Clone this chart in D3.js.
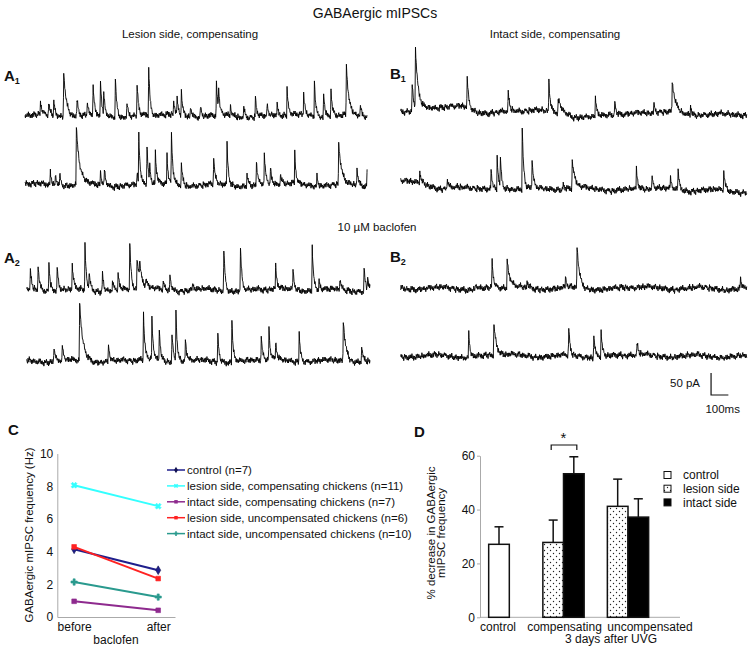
<!DOCTYPE html>
<html><head><meta charset="utf-8">
<script src="https://cdn.jsdelivr.net/npm/d3@7"></script>
<style>
body{margin:0;background:#fff}
svg{display:block}
text{font-family:"Liberation Sans",Arial,Helvetica,sans-serif;fill:#111}
</style>
</head><body>
<svg id="fig" width="750" height="649"></svg>
<script>
// ---------------- DATA ----------------
// mIPSC events: [time ms, amplitude pA, (optional decay ms)]
const eventsA1_1 = [[88,30],[136,30],[166,34],[224,104,16],[302,38],[361,30],[396,61],[439,76],[458,49],[526,95],[594,30],[653,74],[721,110],[867,34],[887,34],[912,57],[965,27],[1023,23],[1117,72],[1130,49],[1199,23],[1277,23],[1345,45],[1413,23],[1472,23],[1530,63],[1627,49],[1690,83],[1744,58],[1787,66],[1877,116,14],[1959,23]];
const eventsA1_2 = [[146,30],[175,27],[201,27],[298,127,20],[439,30],[462,40],[653,23],[663,108],[711,93],[727,30],[760,73],[828,61],[854,116],[912,52],[1101,63],[1179,93],[1296,30],[1351,57],[1397,72],[1433,38],[1491,27],[1575,70],[1705,23],[1832,96,16],[1939,38],[1998,34]];
const eventsB1_1 = [[64,64],[83,129,14],[382,70],[619,43],[854,70],[908,30,35],[1123,48],[1235,34],[1461,20],[1567,70,20],[1673,23]];
const eventsB1_2 = [[108,27],[266,19],[520,45],[555,73],[574,64],[700,140],[757,61],[937,15],[989,64,16],[1360,42],[1451,23],[1557,27],[1601,53],[1865,49]];
const eventsA2_1 = [[19,42],[64,57],[127,68],[175,53],[263,55],[337,102],[361,38],[439,45],[497,23],[530,38],[598,108],[640,70,22],[655,35],[692,19],[793,19],[832,38],[965,15],[1146,95],[1243,98],[1448,51],[1549,45],[1661,104],[1701,19],[1822,23],[1963,55],[1984,30]];
const eventsA2_2 = [[156,34],[205,34],[306,127,20],[474,40],[678,106],[727,95],[770,74],[844,66],[867,114],[922,53],[1111,64],[1193,95],[1364,58],[1409,70],[1448,40],[1585,72],[1842,95,16],[1949,40]];
const eventsB2_1 = [[430,15],[526,61],[613,61,16],[728,15],[950,23],[1017,96,14],[1962,23]];
const eventsB2_2 = [[391,52],[536,70,16],[969,59],[1114,53],[1156,59],[1364,27]];
// baseline drift: [time ms, offset pA]
const driftB1_1 = [[0,-4],[60,-4],[100,12],[370,10],[450,0],[900,0],[1000,-15],[1110,-15],[1200,-4],[1600,-4],[1800,-8],[2000,-4]];
const driftB1_2 = [[0,10],[130,10],[230,-6],[450,0],[600,-8],[900,-4],[1400,-6],[2000,-10]];
// fixed hand-typed texture for recording noise (pA)
const noiseFast = [2,-3,4,-1,-4,3,1,-5,5,-2,0,4,-3,2,-4,5,-1,-3,3,-5,1,4,-2];
const noiseMid  = [-1,2,3,0,-2,-3,1,3,-1,-3,2,0,-2];
const noiseSlow = [0,3,5,2,-2,-4,-1,2,4,1,-3,-5,-2,1,3];
const traceDuration = 2000; // ms
const scaleBarTime = 100;   // ms
const scaleBarAmp = 50;     // pA

// Panel C
const cCategories = ["before","after"];
const cSeriesNames = ["control (n=7)","lesion side, compensating chickens (n=11)","intact side, compensating chickens (n=7)","lesion side, uncompensated chickens (n=6)","intact side, uncompensated chickens (n=10)"];
const cControl      = [4.14, 2.86];
const cLesionComp   = [8.06, 6.78];
const cIntactComp   = [0.96, 0.41];
const cLesionUncomp = [4.29, 2.35];
const cIntactUncomp = [2.14, 1.22];
const cTicks = [0,2,4,6,8,10];

// Panel D
const dGroups = ["control","compensating","uncompensated"];
const dSides = ["control","lesion side","intact side"];
const dBarGroup = ["control","compensating","compensating","uncompensated","uncompensated"];
const dBarSide  = ["control","lesion side","intact side","lesion side","intact side"];
const dBarMean  = [27.1, 27.8, 53.3, 41.2, 37.2];
const dBarSEM   = [6.5, 8.3, 6.3, 10.1, 6.8];
const dTicks = [0,20,40,60];

// ---------------- DRAW ----------------
const svg = d3.select("#fig");
svg.append("rect").attr("width",750).attr("height",649).attr("fill","#fff");
const F = '"Liberation Sans",Arial,sans-serif';

function txt(x,y,s,size,opts={}){
  const t = svg.append("text").attr("x",x).attr("y",y).attr("font-size",size).text(s);
  if(opts.anchor) t.attr("text-anchor",opts.anchor);
  if(opts.bold) t.attr("font-weight","bold");
  return t;
}
txt(375,18,"GABAergic mIPSCs",14,{anchor:"middle"});
txt(190,38,"Lesion side, compensating",11.5,{anchor:"middle"});
txt(555,38,"Intact side, compensating",11.5,{anchor:"middle"});
txt(377,231,"10 \u00B5M baclofen",11.5,{anchor:"middle"});

function panelLabel(x,y,L,sub){
  const t = svg.append("text").attr("x",x).attr("y",y).attr("font-size",15).attr("font-weight","bold");
  t.append("tspan").text(L);
  if(sub) t.append("tspan").attr("font-size",9).attr("dy",3).text(sub);
}
panelLabel(4,81,"A","1");
panelLabel(390,79,"B","1");
panelLabel(4,263,"A","2");
panelLabel(390,262,"B","2");
panelLabel(8,435,"C");
panelLabel(414,437,"D");

// traces
const rise = 2.5, defTau = 8, dt = 2.5;
function buildTrace(events, drift, k){
  const driftScale = drift ? d3.scaleLinear().domain(drift.map(d=>d[0])).range(drift.map(d=>d[1])).clamp(true) : null;
  const times = d3.range(0, traceDuration+0.001, dt).concat(events.map(e=>e[0]+rise)).sort((a,b)=>a-b);
  return times.map(t=>{
    let v = 0;
    for(const e of events){
      const d = t - e[0];
      if(d < 0) continue;
      const tau = e[2] || defTau;
      v += d < rise ? e[1]*d/rise : e[1]*Math.exp(-(d-rise)/tau);
    }
    const i = Math.round(t/dt);
    const f = noiseFast[(i + k*5) % noiseFast.length];
    const m = noiseMid[Math.floor((i + k*3)/3) % noiseMid.length];
    const si = Math.floor((i + k*11)/20), fr = ((i + k*11)%20)/20;
    const s0 = noiseSlow[si % noiseSlow.length], s1 = noiseSlow[(si+1) % noiseSlow.length];
    v += 1.1*f + 1.0*m + 0.9*(s0 + (s1-s0)*fr);
    if(driftScale) v += driftScale(t);
    return {t, v};
  });
}
const traces = [
  {ev:eventsA1_1, x0:25,   x1:367,   base:116},
  {ev:eventsA1_2, x0:25,   x1:367,   base:185},
  {ev:eventsB1_1, x0:400.7,x1:746.7, base:111.7, drift:driftB1_1},
  {ev:eventsB1_2, x0:400.7,x1:746.7, base:186.7, drift:driftB1_2},
  {ev:eventsA2_1, x0:26.7, x1:370,   base:290},
  {ev:eventsA2_2, x0:26.7, x1:370,   base:361},
  {ev:eventsB2_1, x0:400.7,x1:746.7, base:288.3},
  {ev:eventsB2_2, x0:400.7,x1:746.7, base:356}
];
traces.forEach((tr,k)=>{
  const tx = d3.scaleLinear().domain([0,traceDuration]).range([tr.x0,tr.x1]);
  const ay = d3.scaleLinear().domain([0,scaleBarAmp]).range([tr.base,tr.base-22]);
  const data = buildTrace(tr.ev, tr.drift, k);
  svg.append("path").datum(data)
    .attr("d", d3.line().x(d=>tx(d.t)).y(d=>ay(d.v)))
    .attr("fill","none").attr("stroke","#000").attr("stroke-width",0.9).attr("stroke-linejoin","round");
});
// scale bar
{
  const tx = d3.scaleLinear().domain([0,traceDuration]).range([400.7,746.7]);
  const ay = d3.scaleLinear().domain([0,scaleBarAmp]).range([395,373]);
  const t0 = 1794;
  svg.append("path").attr("d",`M${tx(t0)},${ay(scaleBarAmp)}V${ay(0)}H${tx(t0+scaleBarTime)}`)
    .attr("fill","none").attr("stroke","#111").attr("stroke-width",1.2);
  txt(tx(t0)-11,387,scaleBarAmp+" pA",11.5,{anchor:"end"});
  txt(tx(t0+scaleBarTime/2)+3,413,scaleBarTime+"ms",11.5,{anchor:"middle"});
}

// ---------------- Panel C ----------------
{
  const y = d3.scaleLinear().domain([0,10]).range([617,453.5]);
  const x = d3.scalePoint().domain(cCategories).range([57.3,175]).padding(0.2);
  const ya = svg.append("g").attr("transform","translate(57.3,0)")
    .call(d3.axisLeft(y).tickValues(cTicks).tickSize(0).tickPadding(4).tickSizeOuter(0));
  ya.select(".domain").attr("stroke","#aaa");
  ya.selectAll("text").attr("font-size",12).attr("font-family",F).attr("fill","#111");
  const xa = svg.append("g").attr("transform","translate(0,617)")
    .call(d3.axisBottom(x).tickSize(0).tickPadding(5).tickSizeOuter(0));
  xa.select(".domain").attr("stroke","#aaa");
  xa.selectAll("text").attr("font-size",12).attr("font-family",F).attr("fill","#111");
  txt(116,644,"baclofen",12,{anchor:"middle"});
  svg.append("text").attr("transform","translate(33,535) rotate(-90)").attr("text-anchor","middle")
    .attr("font-size",11.5).text("GABAergic mIPSC frequency (Hz)");

  const series = [cControl,cLesionComp,cIntactComp,cLesionUncomp,cIntactUncomp];
  const colors = ["#1f1f8c","#33ffff","#8e2a8e","#ff2222","#2a9a8e"];
  const symbols = [d3.symbolDiamond,d3.symbolCross,d3.symbolSquare,d3.symbolSquare,d3.symbolCross];
  const rot = [0,45,0,0,0];
  const sym = (i,s)=>d3.symbol().type(symbols[i]).size(s)();
  series.forEach((vals,i)=>{
    const pts = cCategories.map((c,j)=>({c,v:vals[j]}));
    svg.append("path").datum(pts).attr("d",d3.line().x(d=>x(d.c)).y(d=>y(d.v)))
      .attr("fill","none").attr("stroke",colors[i]).attr("stroke-width",2);
    pts.forEach(p=>{
      svg.append("path").attr("d",sym(i,22)).attr("transform",`translate(${x(p.c)},${y(p.v)}) rotate(${rot[i]})`)
        .attr("fill",colors[i]).attr("stroke",i===0?"#111150":colors[i]).attr("stroke-width",0.6);
    });
    const ly = 470 + i*15.9;
    svg.append("line").attr("x1",167).attr("x2",185).attr("y1",ly).attr("y2",ly).attr("stroke",colors[i]).attr("stroke-width",1.5);
    svg.append("path").attr("d",sym(i,12)).attr("transform",`translate(176,${ly}) rotate(${rot[i]})`).attr("fill",i===0?"#111150":colors[i]);
    txt(187,ly+4,cSeriesNames[i],11.5);
  });
}

// ---------------- Panel D ----------------
{
  const defs = svg.append("defs");
  const pat = defs.append("pattern").attr("id","dots").attr("patternUnits","userSpaceOnUse").attr("width",6).attr("height",6);
  pat.append("rect").attr("width",6).attr("height",6).attr("fill","#fff");
  pat.append("circle").attr("cx",1.5).attr("cy",1.5).attr("r",0.7).attr("fill","#222");
  pat.append("circle").attr("cx",4.5).attr("cy",4.5).attr("r",0.7).attr("fill","#222");
  const fills = {"control":"#fff","lesion side":"url(#dots)","intact side":"#000"};

  const y = d3.scaleLinear().domain([0,60]).range([617.3,455.7]);
  const g = d3.scaleBand().domain(dGroups).range([466.75,660.25]).padding(0);
  const bw = g.bandwidth()*0.32;
  const ya = svg.append("g").attr("transform","translate(480,0)")
    .call(d3.axisLeft(y).tickValues(dTicks).tickSize(3).tickPadding(2).tickSizeOuter(0));
  ya.select(".domain").attr("stroke","#aaa");
  ya.selectAll(".tick line").attr("stroke","#aaa");
  ya.selectAll("text").attr("font-size",12).attr("font-family",F).attr("fill","#111");
  svg.append("line").attr("x1",480).attr("x2",680).attr("y1",y(0)).attr("y2",y(0)).attr("stroke","#aaa");

  const xa = svg.append("g").attr("transform",`translate(0,${y(0)})`)
    .call(d3.axisBottom(g).tickSize(0).tickPadding(5));
  xa.select(".domain").remove();
  xa.selectAll("text").attr("font-size",12).attr("font-family",F).attr("fill","#111")
    .attr("dx",d=>d==="uncompensated"?22:(d==="control"?-1:1));
  txt(611,643,"3 days after UVG",12,{anchor:"middle"});

  svg.append("text").attr("transform","translate(435,533) rotate(-90)").attr("text-anchor","middle")
    .attr("font-size",11.5).text("% decrease in GABAergic");
  svg.append("text").attr("transform","translate(445,533) rotate(-90)").attr("text-anchor","middle")
    .attr("font-size",11.5).text("mIPSC frequency");

  const centers = [];
  dBarMean.forEach((m,i)=>{
    const grp = dBarGroup[i];
    const sides = dBarSide.filter((s,j)=>dBarGroup[j]===grp);
    const inner = d3.scaleBand().domain(sides).range([g(grp)+g.bandwidth()/2 - sides.length*bw/2, g(grp)+g.bandwidth()/2 + sides.length*bw/2]);
    const x0 = inner(dBarSide[i]);
    const cx = x0 + bw/2;
    centers.push(cx);
    svg.append("line").attr("x1",cx).attr("x2",cx).attr("y1",y(m)).attr("y2",y(m+dBarSEM[i])).attr("stroke","#111").attr("stroke-width",1.5);
    svg.append("line").attr("x1",cx-4.5).attr("x2",cx+4.5).attr("y1",y(m+dBarSEM[i])).attr("y2",y(m+dBarSEM[i])).attr("stroke","#111").attr("stroke-width",1.5);
    svg.append("rect").attr("x",x0).attr("y",y(m)).attr("width",bw).attr("height",y(0)-y(m))
      .attr("fill",fills[dBarSide[i]]).attr("stroke","#111").attr("stroke-width",1.5);
  });
  const by = 445;
  svg.append("path").attr("d",`M${centers[1]-2},${by+5}V${by}H${centers[2]+3}V${by+5}`)
    .attr("fill","none").attr("stroke","#111").attr("stroke-width",1.2);
  txt((centers[1]+centers[2])/2,443,"*",15,{anchor:"middle"});

  dSides.forEach((s,i)=>{
    const ly = 475 + i*13.7;
    svg.append("rect").attr("x",664).attr("y",ly-3.5).attr("width",7).attr("height",7)
      .attr("fill",fills[s]).attr("stroke","#111").attr("stroke-width",1);
    txt(683,ly+4.2,s,12);
  });
}
</script>
</body></html>
